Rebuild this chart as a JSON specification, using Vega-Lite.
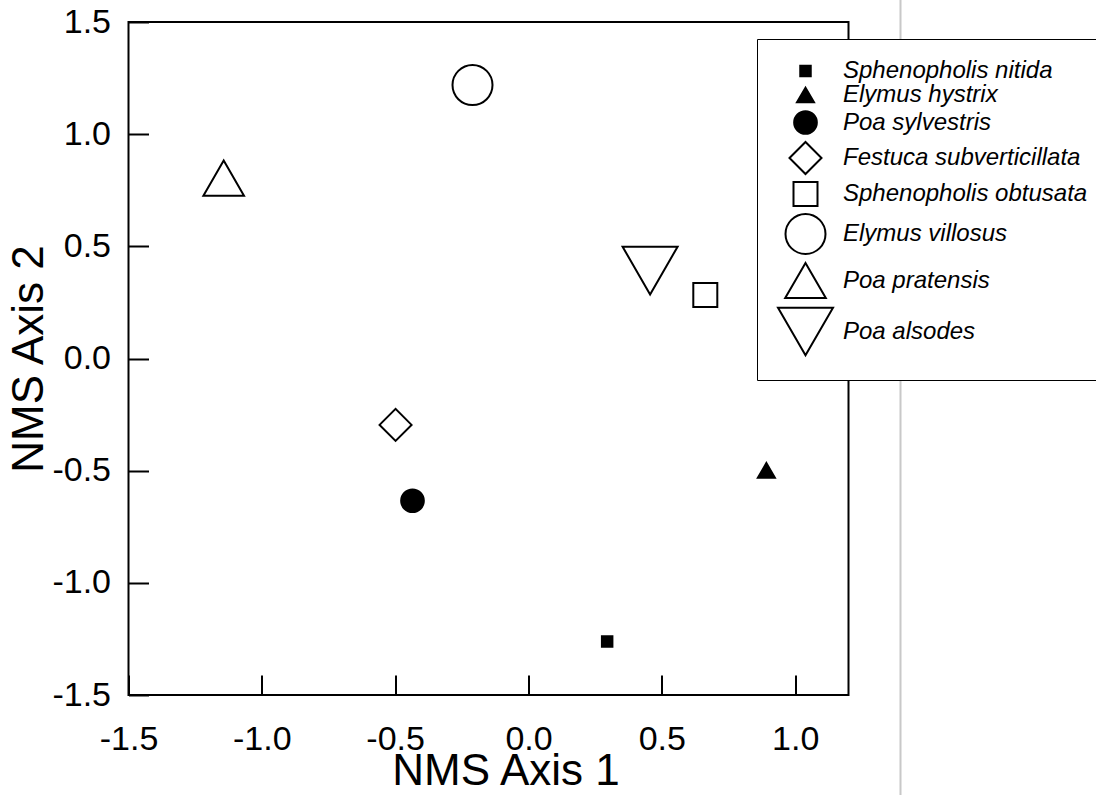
{
  "$schema": "https://vega.github.io/schema/vega-lite/v6.json",
  "autosize": {"type": "none"},
  "width": 720,
  "height": 673,
  "padding": {"left": 128.5, "top": 22, "right": 247.5, "bottom": 100},
  "background": "white",
  "config": {
    "font": "Liberation Sans",
    "view": {"stroke": "black", "strokeWidth": 2},
    "axis": {
      "domain": false,
      "grid": false,
      "tickColor": "black",
      "tickWidth": 2,
      "tickSize": -20,
      "labelFlush": false,
      "labelColor": "black",
      "titleColor": "black",
      "labelFont": "Liberation Sans",
      "titleFont": "Liberation Sans",
      "labelFontSize": 34,
      "titleFontSize": 44,
      "titleFontWeight": "normal"
    }
  },
  "datasets": {
    "pts": [
      {"species": "Sphenopholis nitida", "x": 0.295, "y": -1.262},
      {"species": "Elymus hystrix", "x": 0.892, "y": -0.499},
      {"species": "Poa sylvestris", "x": -0.435, "y": -0.634},
      {"species": "Festuca subverticillata", "x": -0.4985, "y": -0.296},
      {"species": "Sphenopholis obtusata", "x": 0.663, "y": 0.283},
      {"species": "Elymus villosus", "x": -0.21, "y": 1.219},
      {"species": "Poa pratensis", "x": -1.143, "y": 0.804},
      {"species": "Poa alsodes", "x": 0.456, "y": 0.392}
    ],
    "divider": [{"xpos": 1.395, "top": 1.62, "bottom": -1.98}]
  },
  "layer": [
    {
      "data": {"name": "divider"},
      "mark": {"type": "rule", "color": "#c8c8c8", "strokeWidth": 2, "clip": false},
      "encoding": {
        "x": {"field": "xpos", "type": "quantitative", "scale": {"domain": [-1.5, 1.2], "nice": false, "zero": false}},
        "y": {"field": "top", "type": "quantitative", "scale": {"domain": [-1.5, 1.5], "nice": false, "zero": false}},
        "y2": {"field": "bottom"}
      }
    },
    {
      "data": {"name": "pts"},
      "mark": {"type": "point", "filled": true, "stroke": "black", "strokeWidth": 2, "opacity": 1},
      "encoding": {
        "x": {
          "field": "x", "type": "quantitative",
          "scale": {"domain": [-1.5, 1.2], "nice": false, "zero": false},
          "axis": {"title": "NMS Axis 1", "values": [-1.5, -1.0, -0.5, 0.0, 0.5, 1.0], "format": ".1f", "labelExpr": "replace(datum.label, '\u2212', '-')", "labelPadding": 47, "titlePadding": -7, "titleX": 377}
        },
        "y": {
          "field": "y", "type": "quantitative",
          "scale": {"domain": [-1.5, 1.5], "nice": false, "zero": false},
          "axis": {"title": "NMS Axis 2", "values": [-1.5, -1.0, -0.5, 0.0, 0.5, 1.0, 1.5], "format": ".1f", "labelExpr": "replace(datum.label, '\u2212', '-')", "labelPadding": 38, "titlePadding": 0}
        },
        "shape": {
          "field": "species", "type": "nominal",
          "scale": {
            "domain": ["Sphenopholis nitida", "Elymus hystrix", "Poa sylvestris", "Festuca subverticillata", "Sphenopholis obtusata", "Elymus villosus", "Poa pratensis", "Poa alsodes"],
            "range": ["square", "triangle-up", "circle", "diamond", "square", "circle", "triangle-up", "triangle-down"]
          },
          "legend": {
            "title": null,
            "orient": "none",
            "legendX": 628.5,
            "legendY": 17,
            "padding": 20,
            "strokeColor": "black",
            "fillColor": "white",
            "labelFontSize": 24,
            "labelFontStyle": "italic",
            "labelColor": "black",
            "labelLimit": 500,
            "labelOffset": 9,
            "rowPadding": 0,
            "symbolStrokeColor": "black",
            "symbolStrokeWidth": 2,
            "symbolOpacity": 1,
            "encode": {
              "legend": {"update": {"strokeWidth": {"value": 2}}},
              "symbols": {"update": {"size": {"signal": "datum.value === 'Sphenopholis nitida' ? 25 : datum.value === 'Elymus hystrix' ? 40 : datum.value === 'Poa sylvestris' ? 50 : datum.value === 'Festuca subverticillata' ? 841 : datum.value === 'Sphenopholis obtusata' ? 484 : datum.value === 'Elymus villosus' ? 1370 : datum.value === 'Poa pratensis' ? 1370 : 2400"}}}
            }
          }
        },
        "size": {
          "field": "species", "type": "nominal",
          "scale": {
            "type": "ordinal",
            "domain": ["Sphenopholis nitida", "Elymus hystrix", "Poa sylvestris", "Festuca subverticillata", "Sphenopholis obtusata", "Elymus villosus", "Poa pratensis", "Poa alsodes"],
            "range": [110, 290, 515, 1024, 576, 1600, 1650, 3025]
          }
        },
        "fill": {
          "field": "species", "type": "nominal",
          "scale": {
            "domain": ["Sphenopholis nitida", "Elymus hystrix", "Poa sylvestris", "Festuca subverticillata", "Sphenopholis obtusata", "Elymus villosus", "Poa pratensis", "Poa alsodes"],
            "range": ["black", "black", "black", "white", "white", "white", "white", "white"]
          }
        }
      }
    }
  ]
}
